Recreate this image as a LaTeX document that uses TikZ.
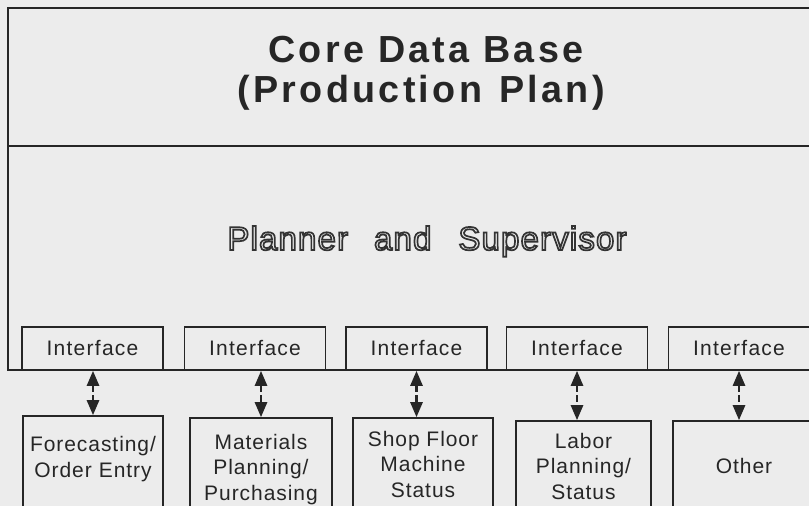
\documentclass[tikz,border=0pt]{standalone}
\usepackage{fontspec}
\setmainfont{Liberation Sans}
\usetikzlibrary{arrows.meta}
\definecolor{paper}{HTML}{ECECEC}
\definecolor{ink}{HTML}{262626}
\definecolor{rim}{HTML}{333333}
% hollow lettering: glyphs are stroked instead of filled
\newcommand\hollowtext[1]{%
  \special{pdf:literal direct 1 Tr 1.7 w}#1\special{pdf:literal direct 0 Tr}}
\tikzset{
  frame/.style={draw=ink, line width=1.6pt},
  titletext/.style={anchor=base, inner sep=0pt, text=ink,
    font=\fontsize{37.7}{40}\selectfont\bfseries\addfontfeatures{LetterSpace=8.8}},
  roletext/.style={anchor=base, inner sep=0pt, text=rim,
    font=\fontsize{33}{36}\selectfont\addfontfeatures{LetterSpace=3.5}},
  ifbox/.style={frame, minimum width=141pt, minimum height=43pt, inner sep=0pt, text=ink,
    font=\fontsize{21}{25}\selectfont\addfontfeatures{LetterSpace=6}},
  unitbox/.style={frame, minimum height=96pt, inner sep=0pt},
  unittext/.style={align=center, inner sep=0pt, text=ink, anchor=base,
    font=\fontsize{21}{25.5}\selectfont\addfontfeatures{LetterSpace=4.5}},
  link/.style={draw=ink, line width=2.6pt, dash pattern=on 7pt off 3pt,
    {Triangle[width=12pt,length=15pt]}-{Triangle[width=12pt,length=15pt]}}
}
\begin{document}
\begin{tikzpicture}[x=1pt,y=-1pt]
  \useasboundingbox (0,0) rectangle (809,506);
  \fill[paper] (0,0) rectangle (809,506);

  % core data base and planner/supervisor panels
  \node[frame, minimum width=812pt, minimum height=138pt, inner sep=0pt] (core) at (414,77) {};
  \node[frame, minimum width=812pt, minimum height=224pt, inner sep=0pt] (planner) at (414,258) {};

  \node[titletext] (title1) at (426,62) {Core Data Base};
  \node[titletext] (title2) at (421,102) {(Production\hspace*{17pt}Plan)};
  \node[roletext] (role) at (427,250)
    {\hollowtext{Planner\hspace*{26pt}and\hspace*{27pt}Supervisor}};

  % interface boxes resting on the bottom edge
  \node[ifbox] (i1) at (92.5,348.5) {Interface};
  \node[ifbox] (i2) at (255,348.5) {Interface};
  \node[ifbox] (i3) at (416.5,348.5) {Interface};
  \node[ifbox] (i4) at (577,348.5) {Interface};
  \node[ifbox] (i5) at (739,348.5) {Interface};

  % functional units
  \node[unitbox, minimum width=140pt] (b1) at (93,464) {};
  \node[unitbox, minimum width=142pt] (b2) at (261,466) {};
  \node[unitbox, minimum width=140pt] (b3) at (423,466) {};
  \node[unitbox, minimum width=135pt] (b4) at (583.5,469) {};
  \node[unitbox, minimum width=142pt] (b5) at (744,469) {};

  % captions, placed by the baseline of their last line
  \node[unittext] (t1) at (93,477) {Forecasting/\\Order\hspace*{7pt}Entry};
  \node[unittext] (t2) at (261,500) {Materials\\Planning/\\Purchasing};
  \node[unittext] (t3) at (423,497) {Shop Floor\\Machine\\Status};
  \node[unittext] (t4) at (583.5,499) {Labor\\Planning/\\Status};
  \node[unittext] (t5) at (744,473) {Other};

  % two-way links
  \draw[link] (b1.north |- i1.south) -- (b1.north);
  \draw[link] (b2.north |- i2.south) -- (b2.north);
  \draw[link] (i3.south) -- (i3.south |- b3.north);
  \draw[link] (i4.south) -- (i4.south |- b4.north);
  \draw[link] (i5.south) -- (i5.south |- b5.north);
\end{tikzpicture}
\end{document}
